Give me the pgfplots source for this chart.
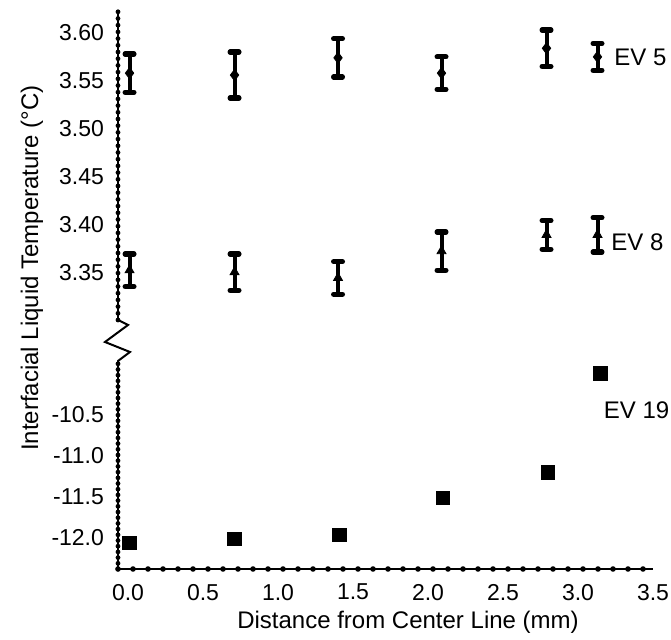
\documentclass[border=0pt]{standalone}
\usepackage{pgfplots}
\pgfplotsset{compat=1.18}
\usepackage{fontspec}
\setmainfont{Liberation Sans}
\begin{document}
\begin{tikzpicture}
\pgfplotsset{
  base/.style={
    scale only axis,
    width=267.5pt,
    xmin=-0.067, xmax=3.5,
    major tick length=0pt,
    minor tick length=0pt,
    ticklabel style={font=\fontsize{11.5}{13}\selectfont},
    /pgf/number format/assume math mode=true,
    clip=false,
  },
}
% upper part
\begin{axis}[base,
  at={(59pt,-160pt)}, anchor=south west,
  height=155pt,
  ymin=3.300, ymax=3.624,
  axis y line=left, axis x line=none,
  ytick={3.35,3.40,3.45,3.50,3.55,3.60},
  yticklabel style={xshift=-3.5pt, /pgf/number format/fixed, /pgf/number format/fixed zerofill, /pgf/number format/precision=2},
  axis line style={-},
  y axis line style={-, line width=1pt, postaction={draw, line width=2.4pt, line cap=round, dash pattern=on 0pt off 3.35pt}},
]
\addplot[only marks, black, mark=diamond*, mark size=2.8pt, mark options={black, fill=black},
  error bars/.cd, y dir=both, y explicit,
  error bar style={line width=2pt, black},
  error mark options={rotate=90, line width=2.6pt, mark size=2.2pt, line cap=round, black}]
  coordinates {
  (0.01,3.558) +- (0,0.020)
  (0.71,3.556) +- (0,0.024)
  (1.40,3.574) +- (0,0.020)
  (2.09,3.558) +- (0,0.017)
  (2.79,3.584) +- (0,0.019)
  (3.13,3.575) +- (0,0.014)
  };
\addplot[only marks, black, mark=triangle*, mark size=2.6pt, mark options={black, fill=black},
  error bars/.cd, y dir=both, y explicit,
  error bar style={line width=2pt, black},
  error mark options={rotate=90, line width=2.6pt, mark size=2.2pt, line cap=round, black}]
  coordinates {
  (0.01,3.352) +- (0,0.017)
  (0.71,3.350) +- (0,0.019)
  (1.40,3.344) +- (0,0.017)
  (2.09,3.372) +- (0,0.020)
  (2.79,3.389) +- (0,0.015)
  (3.13,3.389) +- (0,0.018)
  };
\node[anchor=west, font=\fontsize{12}{14}\selectfont, inner sep=0pt] at (axis cs:3.24,3.575) {EV 5};
\node[anchor=west, font=\fontsize{12}{14}\selectfont, inner sep=0pt] at (axis cs:3.22,3.381) {EV 8};
\end{axis}
% lower part
\begin{axis}[base,
  at={(59pt,-284.5pt)}, anchor=south west,
  height=103.5pt,
  ymin=-12.378, ymax=-9.854,
  axis lines=left,
  xtick={0,0.5,1,1.5,2,2.5,3,3.5},
  ytick={-12,-11.5,-11,-10.5},
  xticklabel style={yshift=-4pt, /pgf/number format/fixed, /pgf/number format/fixed zerofill, /pgf/number format/precision=1},
  yticklabel style={xshift=-3.5pt, /pgf/number format/fixed, /pgf/number format/fixed zerofill, /pgf/number format/precision=1},
  axis line style={-},
  y axis line style={-, line width=1pt, postaction={draw, line width=2.4pt, line cap=round, dash pattern=on 0pt off 2.85pt}},
  x axis line style={-, line width=1pt, postaction={draw, line width=2.8pt, line cap=round, dash pattern=on 0pt off 7.5pt}},
]
\addplot[only marks, black, mark=square*, mark size=3.4pt, mark options={black, fill=black}]
  coordinates {
  (0.01,-12.06)
  (0.71,-12.01)
  (1.41,-11.96)
  (2.10,-11.51)
  (2.80,-11.20)
  (3.15,-9.99)
  };
\node[anchor=west, font=\fontsize{12}{14}\selectfont, inner sep=0pt] at (axis cs:3.17,-10.44) {EV 19};
\end{axis}
% axis break
\draw[line width=1pt, line join=miter] (59pt,-160pt) -- (64pt,-162.5pt) -- (52.5pt,-171pt) -- (65pt,-176pt) -- (59pt,-180.5pt) -- (59pt,-181pt);
% axis titles
\node[rotate=90, font=\fontsize{12}{14}\selectfont] at (16pt,-134pt) {Interfacial Liquid Temperature (\textdegree C)};
\node[font=\fontsize{12}{14}\selectfont] at (204pt,-311pt) {Distance from Center Line (mm)};
\pgfresetboundingbox
\path (0pt,0pt) rectangle (335.5pt,-320pt);
\end{tikzpicture}
\end{document}
